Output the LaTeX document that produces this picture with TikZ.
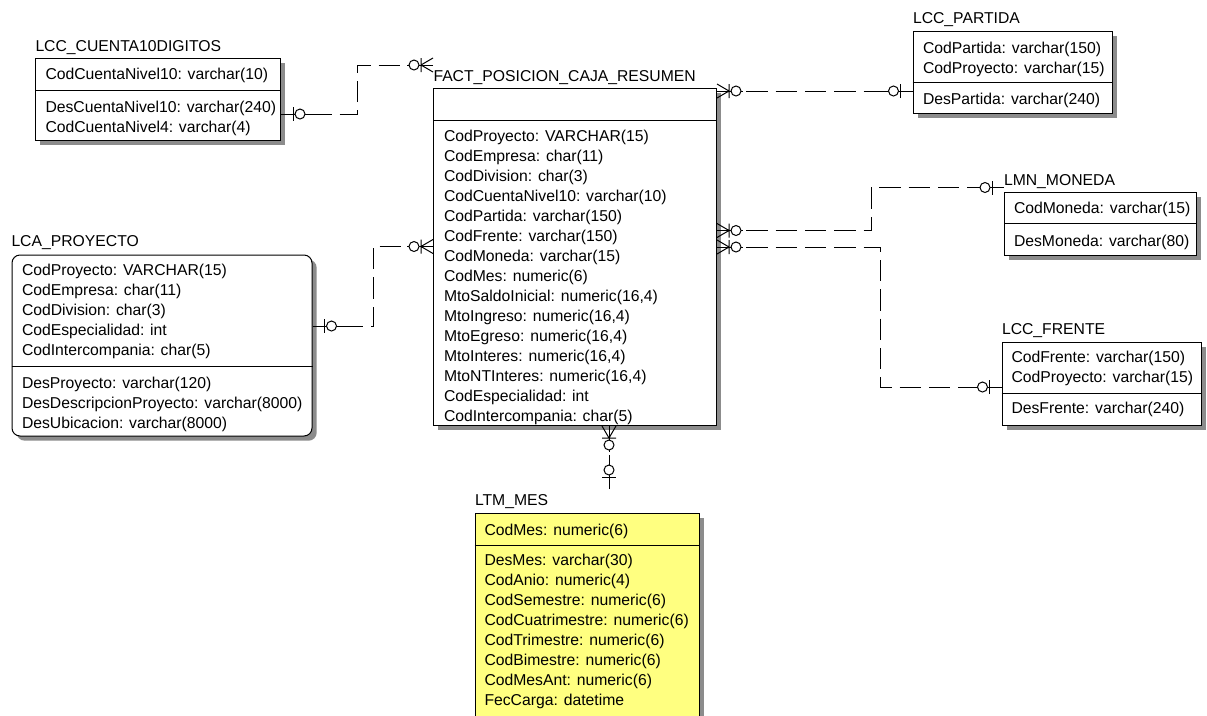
\documentclass[tikz,border=0pt]{standalone}
\usepackage{fontspec}
\setmainfont{Liberation Sans}
\usetikzlibrary{shadows}
\definecolor{erwinyellow}{RGB}{255,255,128}
\tikzset{
  entity/.style={draw, fill=white, anchor=north west, inner sep=0pt,
    drop shadow={shadow xshift=3.5pt, shadow yshift=-3.5pt, fill=black!45, opacity=1}},
  tabtitle/.style={anchor=base west, inner sep=0pt, font=\fontsize{11.8}{14}\selectfont},
  field/.style={anchor=base west, inner sep=0pt, font=\fontsize{11.8}{14}\selectfont},
  rel/.style={dash pattern=on 16pt off 6pt},
  zeroone/.pic={
    \draw (0,0) -- (32,0) (12,-7) -- (12,7);
    \draw[fill=white] (19,0) circle[radius=5];
  },
  zeromany/.pic={
    \draw (0,0) -- (26,0);
    \draw (12,0) -- (0,-7) (12,0) -- (0,7) (12,-7) -- (12,7);
    \draw[fill=white] (19,0) circle[radius=5];
  }
}
\begin{document}
\begin{tikzpicture}[x=0.75pt,y=-0.75pt,line width=0.75pt]
\useasboundingbox (0,0) rectangle (1207,715);

% LCC_CUENTA10DIGITOS
\node[tabtitle] (cuentaT) at (35,51.5) {LCC\_CUENTA10DIGITOS};
\node[entity, minimum width=183.75pt, minimum height=62pt] (cuenta) at (35,57.5) {};
\draw (cuenta.west |- 0,90) -- (cuenta.east |- 0,90);
\node[field] at (45,79.5) {CodCuentaNivel10: varchar(10)};
\foreach \t [count=\i from 0] in {DesCuentaNivel10: varchar(240), CodCuentaNivel4: varchar(4)}{
\node[field] at (45,112+20*\i) {\t};
}

% FACT_POSICION_CAJA_RESUMEN
\node[tabtitle] (factT) at (433,81) {FACT\_POSICION\_CAJA\_RESUMEN};
\node[entity, minimum width=212.25pt, minimum height=252.75pt] (fact) at (433,88) {};
\draw (fact.west |- 0,120) -- (fact.east |- 0,120);
\foreach \t [count=\i from 0] in {CodProyecto: VARCHAR(15), CodEmpresa: char(11), CodDivision: char(3),
  CodCuentaNivel10: varchar(10), CodPartida: varchar(150), CodFrente: varchar(150), CodMoneda: varchar(15),
  CodMes: numeric(6), {MtoSaldoInicial: numeric(16,4)}, {MtoIngreso: numeric(16,4)}, {MtoEgreso: numeric(16,4)},
  {MtoInteres: numeric(16,4)}, {MtoNTInteres: numeric(16,4)}, CodEspecialidad: int, CodIntercompania: char(5)}{
\node[field] at (443.5,141.5+20*\i) {\t};
}

% LCC_PARTIDA
\node[tabtitle] (partidaT) at (912.5,23.5) {LCC\_PARTIDA};
\node[entity, minimum width=149.25pt, minimum height=61.5pt] (partida) at (912.5,31) {};
\draw (partida.west |- 0,82.5) -- (partida.east |- 0,82.5);
\foreach \t [count=\i from 0] in {CodPartida: varchar(150), CodProyecto: varchar(15)}{
\node[field] at (922.5,53+20*\i) {\t};
}
\node[field] at (922.5,104) {DesPartida: varchar(240)};

% LMN_MONEDA
\node[tabtitle] (monedaT) at (1003.5,185) {LMN\_MONEDA};
\node[entity, minimum width=144pt, minimum height=47.25pt] (moneda) at (1004,192) {};
\draw (moneda.west |- 0,223.5) -- (moneda.east |- 0,223.5);
\node[field] at (1013.5,213) {CodMoneda: varchar(15)};
\node[field] at (1013.5,246) {DesMoneda: varchar(80)};

% LCC_FRENTE
\node[tabtitle] (frenteT) at (1001.5,334) {LCC\_FRENTE};
\node[entity, minimum width=149.25pt, minimum height=62.25pt] (frente) at (1001.5,341.5) {};
\draw (frente.west |- 0,393) -- (frente.east |- 0,393);
\foreach \t [count=\i from 0] in {CodFrente: varchar(150), CodProyecto: varchar(15)}{
\node[field] at (1011,362.5+20*\i) {\t};
}
\node[field] at (1011,413.5) {DesFrente: varchar(240)};

% LCA_PROYECTO
\node[tabtitle] (proyectoT) at (11,246.5) {LCA\_PROYECTO};
\node[entity, rounded corners=6pt, minimum width=225pt, minimum height=135.75pt] (proyecto) at (11.5,254.5) {};
\draw (proyecto.west |- 0,366.5) -- (proyecto.east |- 0,366.5);
\foreach \t [count=\i from 0] in {CodProyecto: VARCHAR(15), CodEmpresa: char(11), CodDivision: char(3),
  CodEspecialidad: int, CodIntercompania: char(5)}{
\node[field] at (21.5,275+20*\i) {\t};
}
\foreach \t [count=\i from 0] in {DesProyecto: varchar(120), DesDescripcionProyecto: varchar(8000),
  DesUbicacion: varchar(8000)}{
\node[field] at (21.5,388.5+20*\i) {\t};
}

% LTM_MES
\node[tabtitle] (mesT) at (474.5,505) {LTM\_MES};
\node[entity, fill=erwinyellow, minimum width=168pt, minimum height=153.75pt] (mes) at (474.5,513) {};
\draw (mes.west |- 0,545.5) -- (mes.east |- 0,545.5);
\node[field] at (484,535) {CodMes: numeric(6)};
\foreach \t [count=\i from 0] in {DesMes: varchar(30), CodAnio: numeric(4), CodSemestre: numeric(6),
  CodCuatrimestre: numeric(6), CodTrimestre: numeric(6), CodBimestre: numeric(6),
  CodMesAnt: numeric(6), FecCarga: datetime}{
\node[field] at (484,565+20*\i) {\t};
}

% relationships
\coordinate (cuentaR) at (cuenta.east |- 0,114);
\coordinate (factA) at (fact.west |- 0,65);
\draw[rel] (cuentaR) -- (357,114) -- (357,65) -- (factA);
\pic at (cuentaR) {zeroone};
\pic[rotate=180] at (factA) {zeromany};

\coordinate (factP) at (fact.east |- 0,91);
\coordinate (partidaL) at (partida.west |- 0,91);
\draw[rel] (factP) -- (partidaL);
\pic at (factP) {zeromany};
\pic[rotate=180] at (partidaL) {zeroone};

\coordinate (factM) at (fact.east |- 0,230.5);
\coordinate (monedaL) at (moneda.west |- 0,187.5);
\draw[rel] (factM) -- (871,230.5) -- (871,187.5) -- (monedaL);
\pic at (factM) {zeromany};
\pic[rotate=180] at (monedaL) {zeroone};

\coordinate (factF) at (fact.east |- 0,247);
\coordinate (frenteL) at (frente.west |- 0,387);
\draw[rel] (factF) -- (880,247) -- (880,387) -- (frenteL);
\pic at (factF) {zeromany};
\pic[rotate=180] at (frenteL) {zeroone};

\coordinate (proyectoR) at (proyecto.east |- 0,326);
\coordinate (factY) at (fact.west |- 0,246.5);
\draw[rel] (proyectoR) -- (373,326) -- (373,246.5) -- (factY);
\pic at (proyectoR) {zeroone};
\pic[rotate=180] at (factY) {zeromany};

\coordinate (factB) at (fact.south -| 609,0);
\coordinate (mesTop) at (609,489);
\draw[rel] (factB) -- (mesTop);
\pic[rotate=-90] at (factB) {zeromany};
\pic[rotate=90] at (mesTop) {zeroone};
\end{tikzpicture}
\end{document}
